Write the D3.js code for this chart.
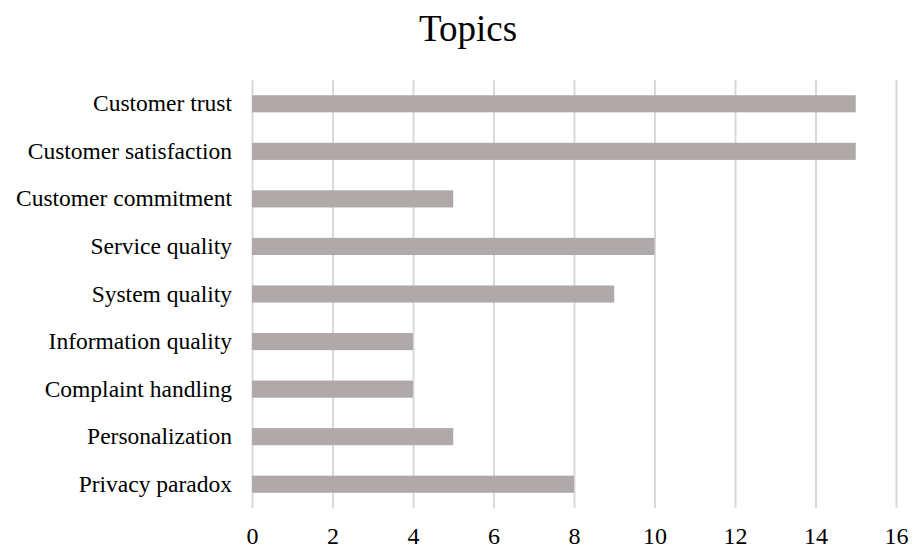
<!DOCTYPE html>
<html><head><meta charset="utf-8">
<script src="https://cdn.jsdelivr.net/npm/d3@7"></script>
<style>body{margin:0;background:#fff}svg{display:block}</style>
</head><body>
<svg id="c" width="914" height="549"></svg>
<script>
const categories = ["Customer trust","Customer satisfaction","Customer commitment","Service quality","System quality","Information quality","Complaint handling","Personalization","Privacy paradox"];
const values = [15,15,5,10,9,4,4,5,8];
const xTicks = [0,2,4,6,8,10,12,14,16];
const title = "Topics";

const svg = d3.select("#c");
const font = "'Liberation Serif','Times New Roman',serif";
const x = d3.scaleLinear().domain([0,16]).range([252,896]);
const y = d3.scaleBand().domain(categories).range([80,508]).paddingInner(0.64).paddingOuter(0.32);

svg.append("text").attr("x",468).attr("y",41).attr("text-anchor","middle")
  .attr("font-family",font).attr("font-size",37).attr("fill","#000").text(title);

const xAxis = svg.append("g").attr("transform","translate(0,508)")
  .call(d3.axisBottom(x).tickValues(xTicks).tickSize(-428).tickFormat(d3.format("d")));
xAxis.select(".domain").remove();
xAxis.selectAll(".tick line").attr("stroke","#d9d9d9").attr("stroke-width",2);
xAxis.selectAll(".tick text").attr("font-family",font).attr("font-size",24).attr("fill","#000").attr("dy",0).attr("y",36);

svg.append("g").selectAll("rect").data(categories).join("rect")
  .attr("x",x(0)).attr("y",d=>y(d)).attr("height",y.bandwidth())
  .attr("width",(d,i)=>x(values[i])-x(0)).attr("fill","#afaaa9");

const yAxis = svg.append("g").attr("transform","translate(252,0)")
  .call(d3.axisLeft(y).tickSize(0).tickPadding(20));
yAxis.select(".domain").remove();
yAxis.selectAll(".tick text").attr("font-family",font).attr("font-size",23.5).attr("fill","#000");
</script>
</body></html>
